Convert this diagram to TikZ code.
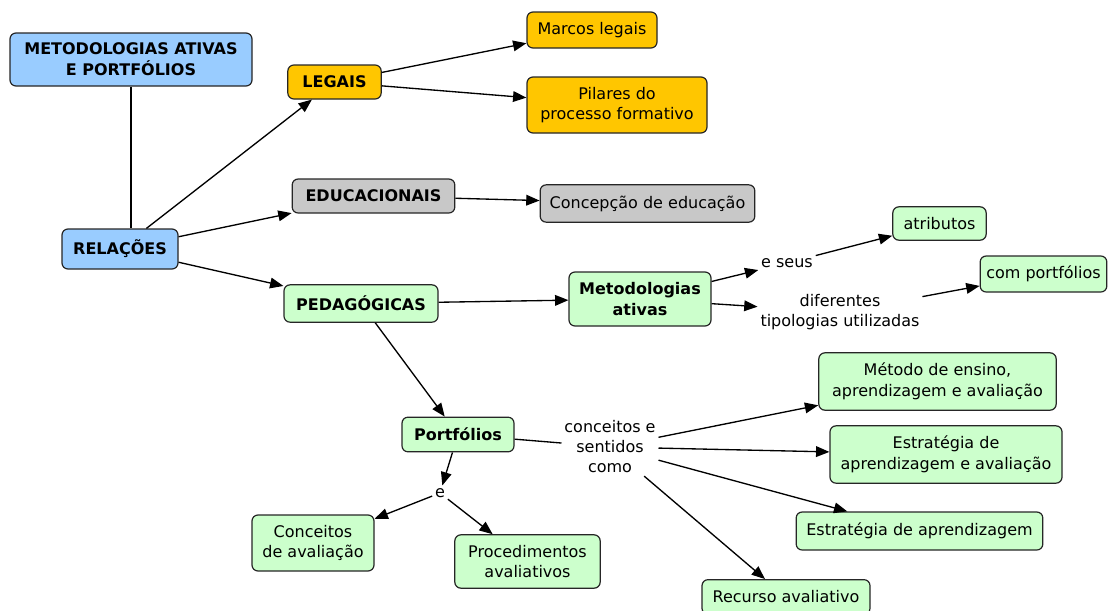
\documentclass[tikz,border=0pt]{standalone}
\usepackage{fontspec}
\setmainfont{DejaVu Sans}
\usepackage{tikz}
\usetikzlibrary{shapes,arrows,arrows.meta,positioning}
\definecolor{azul}{RGB}{153,204,255}
\definecolor{ouro}{RGB}{255,198,0}
\definecolor{cinza}{RGB}{200,200,200}
\definecolor{verde}{RGB}{204,255,204}
\tikzstyle{arrow} = [line width=1pt, -{Triangle[length=10pt,width=8pt]}]
\tikzstyle{link} = [line width=1pt]
\tikzstyle{box} = [draw=black!85, line width=0.9pt, rounded corners=4.5pt, align=center, inner sep=3pt, font=\fontsize{12}{15.5}\selectfont]
\tikzstyle{bbox} = [box, font=\fontsize{12}{15.5}\selectfont\bfseries]
\tikzstyle{frase} = [align=center, inner sep=2pt, font=\fontsize{12}{15}\selectfont]
\tikzset{tam/.style 2 args={minimum width=#1pt, minimum height=#2pt}}

\begin{document}
\begin{tikzpicture}[x=0.75pt,y=-0.75pt]
\useasboundingbox (0,0) rectangle (1108,611);
%\begin{scope}
 % conceitos
 \node[bbox, fill=azul, tam={181.5}{39.75}] (meta) at (131,59.5) {METODOLOGIAS ATIVAS\\E PORTFÓLIOS};
 \node[bbox, fill=azul, tam={87}{30}] (rel) at (120,249) {RELAÇÕES};
 \node[bbox, fill=ouro, tam={70}{25.5}] (legais) at (334.5,82) {LEGAIS};
 \node[box, fill=ouro, tam={97.5}{27}] (marcos) at (592,30) {Marcos legais};
 \node[box, fill=ouro, tam={135}{42}] (pilares) at (617,105) {Pilares do\\processo formativo};
 \node[bbox, fill=cinza, tam={122}{25.5}] (educ) at (373.5,196) {EDUCACIONAIS};
 \node[box, fill=cinza, tam={161}{28}] (concep) at (647.5,203.5) {Concepção de educação};
 \node[bbox, fill=verde, tam={115.5}{28}] (pedag) at (361,303.5) {PEDAGÓGICAS};
 \node[bbox, fill=verde, tam={106.5}{40.5}] (metat) at (640,299) {Metodologias\\ativas};
 \node[box, fill=verde, tam={70}{25}] (atrib) at (939.5,223.5) {atributos};
 \node[box, fill=verde, tam={95}{27}] (comport) at (1043.5,274) {com portfólios};
 \node[bbox, fill=verde, tam={84}{26}] (portf) at (458,434.5) {Portfólios};
 \node[box, fill=verde, tam={178}{43}] (metodo) at (937.5,381.5) {Método de ensino,\\aprendizagem e avaliação};
 \node[box, fill=verde, tam={174}{43}] (estrav) at (946,454.5) {Estratégia de\\aprendizagem e avaliação};
 \node[box, fill=verde, tam={185}{28.5}] (estrap) at (919.5,531) {Estratégia de aprendizagem};
 \node[box, fill=verde, tam={126}{26}] (recurso) at (786,597) {Recurso avaliativo};
 \node[box, fill=verde, tam={91.5}{42}] (concav) at (313,543) {Conceitos\\de avaliação};
 \node[box, fill=verde, tam={109}{40}] (proced) at (527.5,561.5) {Procedimentos\\avaliativos};
 % frases de ligacao
 \node[frase] (eseus) at (787,263) {e seus};
 \node[frase] (difer) at (840,312) {diferentes\\tipologias utilizadas};
 \node[frase] (concs) at (610,447) {conceitos e\\sentidos\\como};
 \node[frase] (econj) at (440,493) {e};

 % ligacoes
 \draw[link] (meta) -- (meta |- rel.north);
 \draw[arrow] (rel) -- (legais);
 \draw[arrow] (rel) -- (educ);
 \draw[arrow] (rel) -- (pedag);
 \draw[arrow] (legais) -- (marcos);
 \draw[arrow] (legais) -- (pilares);
 \draw[arrow] (educ) -- (concep);
 \draw[arrow] (pedag) -- (metat);
 \draw[arrow] (pedag) -- (portf);
 \draw[arrow] (metat) -- (eseus);
 \draw[arrow] (eseus) -- (atrib);
 \draw[arrow] (metat) -- (difer);
 \draw[arrow] (difer) -- (comport);
 \draw[arrow] (portf) -- (econj);
 \draw[arrow] (econj) -- (concav);
 \draw[arrow] (econj) -- (proced);
 \draw[link] (portf) -- (concs);
 \draw[arrow] (concs) -- (metodo);
 \draw[arrow] (concs) -- (estrav);
 \draw[arrow] (concs) -- (estrap);
 \draw[arrow] (concs) -- (recurso);
%\end{scope}
\end{tikzpicture}
\end{document}
